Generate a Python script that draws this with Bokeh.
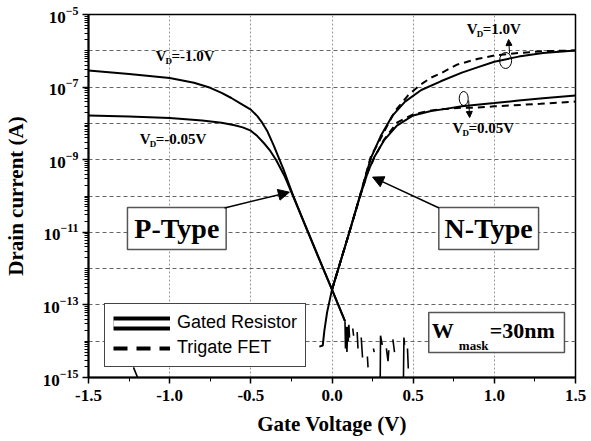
import numpy as np
from bokeh.plotting import figure
from bokeh.models import (ColumnDataSource, FixedTicker, LogTickFormatter, PrintfTickFormatter,
                          Legend, LegendItem, Arrow, NormalHead, Range1d)
from bokeh.core.properties import value
from bokeh.embed import file_html
from bokeh.resources import INLINE

SERIF = "Liberation Serif"
SANS = "Liberation Sans"

# ---- measured transfer curves (gate voltage in V, log10 of drain current in A) ----
# P-type branch, gated resistor, V_D = -1.0 V
vg_p_100 = [-1.5, -1.25, -1.0, -0.85, -0.75, -0.68, -0.62, -0.56, -0.5, -0.46, -0.43, -0.4, -0.36,
            -0.3, -0.24, -0.17, -0.1, 0.0, 0.08]
log_id_p_100 = [-6.54, -6.64, -6.75, -6.88, -7.02, -7.16, -7.3, -7.46, -7.62, -7.8, -7.98, -8.2, -8.6,
                -9.25, -9.98, -10.75, -11.5, -12.58, -13.45]

# P-type branch, gated resistor, V_D = -0.05 V
vg_p_005 = [-1.5, -1.25, -1.0, -0.8, -0.68, -0.6, -0.55, -0.5, -0.46, -0.42, -0.38, -0.345, -0.29,
            -0.24, -0.17, -0.1, 0.0, 0.08]
log_id_p_005 = [-7.78, -7.81, -7.85, -7.92, -7.98, -8.05, -8.11, -8.2, -8.35, -8.54, -8.76, -9.0, -9.47,
                -10.0, -10.76, -11.52, -12.58, -13.45]

# N-type branch, gated resistor, V_D = 1.0 V
vg_n_100 = [-0.078, -0.057, -0.047, -0.03, 0.0, 0.1, 0.17, 0.24, 0.3, 0.37, 0.45, 0.55, 0.67, 0.8, 0.9,
            1.0, 1.15, 1.3, 1.5]
log_id_n_100 = [-14.15, -14.12, -13.71, -13.2, -12.58, -11.1, -10.03, -8.95, -8.35, -7.8, -7.4, -7.08,
                -6.84, -6.6, -6.45, -6.3, -6.16, -6.06, -5.99]

# N-type branch, trigate FET, V_D = 1.0 V
vg_n_100_fet = [0.0, 0.1, 0.17, 0.24, 0.29, 0.33, 0.39, 0.47, 0.55, 0.61, 0.67, 0.77, 0.9, 1.0, 1.15,
                1.3, 1.5]
log_id_n_100_fet = [-12.58, -11.1, -10.03, -8.9, -8.5, -8.15, -7.65, -7.22, -6.92, -6.74, -6.62, -6.38,
                    -6.22, -6.13, -6.06, -6.01, -5.99]

# N-type branch, gated resistor, V_D = 0.05 V
vg_n_005 = [0.0, 0.1, 0.17, 0.22, 0.26, 0.32, 0.4, 0.5, 0.61, 0.7, 0.8, 1.0, 1.15, 1.3, 1.5]
log_id_n_005 = [-12.58, -11.1, -10.05, -9.35, -8.93, -8.47, -8.06, -7.78, -7.66, -7.6, -7.53, -7.44,
                -7.37, -7.31, -7.23]

# N-type branch, trigate FET, V_D = 0.05 V
vg_n_005_fet = [0.0, 0.1, 0.17, 0.22, 0.26, 0.32, 0.4, 0.5, 0.6, 0.7, 0.8, 0.875, 1.0, 1.285, 1.5]
log_id_n_005_fet = [-12.58, -11.1, -10.05, -9.35, -8.95, -8.45, -7.98, -7.75, -7.65, -7.6, -7.57, -7.57,
                    -7.53, -7.46, -7.40]

# noise floor of the off-state current (NaN separates the fragments)
vg_noise = [0.08, 0.083, 0.088, 0.092, 0.097, 0.1, 0.104, 0.108, np.nan,
            0.128, 0.133, np.nan, 0.155, 0.16, np.nan, 0.18, 0.188, np.nan,
            0.218, 0.222, np.nan, 0.255, 0.26, np.nan, 0.297, 0.299, 0.31, np.nan,
            0.335, 0.345, 0.35, np.nan, 0.375, 0.385, np.nan, 0.44, 0.443, 0.447, np.nan,
            0.465, 0.47, np.nan, -1.223, -1.193]
log_id_noise = [-13.45, -14.2, -13.6, -14.3, -13.6, -14.0, -13.55, -13.9, np.nan,
                -13.65, -13.85, np.nan, -13.75, -14.2, np.nan, -13.9, -14.45, np.nan,
                -14.42, -14.72, np.nan, -14.2, -14.3, np.nan, -15.1, -13.85, -14.1, np.nan,
                -14.2, -14.55, -14.25, np.nan, -13.95, -14.3, np.nan, -15.1, -13.9, -14.1, np.nan,
                -14.2, -14.75, np.nan, -14.72, -15.05]

# axis ticks
x_ticks = [-1.5, -1.0, -0.5, 0.0, 0.5, 1.0, 1.5]
x_minor = [-1.25, -0.75, -0.25, 0.25, 0.75, 1.25]
y_labelled = [1e-15, 1e-13, 1e-11, 1e-9, 1e-7, 1e-5]
y_decades = [10.0 ** e for e in range(-15, -4)]
y_minor = [k * 10.0 ** e for e in range(-15, -5) for k in range(1, 10)]


def amps(logs):
    return [10.0 ** v for v in logs]


p = figure(width=591, height=441, x_range=Range1d(-1.5, 1.5), y_range=Range1d(1e-15, 1e-5),
           y_axis_type="log", output_backend="svg", toolbar_location=None,
           min_border_left=87, min_border_right=16, min_border_top=14, min_border_bottom=64)
p.background_fill_color = "white"
p.border_fill_color = "white"
p.outline_line_color = "black"
p.outline_line_width = 1.5

# axes
p.xaxis.ticker = FixedTicker(ticks=x_ticks, minor_ticks=x_minor)
p.xaxis.formatter = PrintfTickFormatter(format="%.1f")
p.yaxis.ticker = FixedTicker(ticks=y_labelled, minor_ticks=y_minor)
p.yaxis.formatter = LogTickFormatter()
p.xaxis.axis_label = "Gate Voltage (V)"
p.yaxis.axis_label = "Drain current (A)"
for ax in (p.xaxis[0], p.yaxis[0]):
    ax.axis_line_width = 2
    ax.axis_line_color = "black"
    ax.major_tick_in = 0
    ax.major_tick_out = 6
    ax.minor_tick_in = 0
    ax.minor_tick_out = 4
    ax.major_tick_line_width = 1.5
    ax.minor_tick_line_width = 1
    ax.major_tick_line_color = "black"
    ax.minor_tick_line_color = "black"
    ax.major_label_text_font = SERIF
    ax.major_label_text_font_style = "bold"
    ax.major_label_text_font_size = "17px"
    ax.major_label_text_color = "black"
    ax.axis_label_text_font = SERIF
    ax.axis_label_text_font_style = "bold"
    ax.axis_label_text_font_size = "21px"
    ax.axis_label_text_color = "black"
p.xaxis.major_label_standoff = 6
p.yaxis.major_label_standoff = 4
p.xaxis.axis_label_standoff = 8
p.yaxis.axis_label_standoff = 12

# dashed grid at every half volt and every decade
p.xgrid.ticker = FixedTicker(ticks=x_ticks)
p.ygrid.ticker = FixedTicker(ticks=y_decades)
p.xgrid.grid_line_color = "#999999"
p.xgrid.grid_line_dash = "2 2"
p.ygrid.grid_line_color = "#666666"
p.ygrid.grid_line_dash = "4 3"
p.xgrid.grid_line_width = 1
p.ygrid.grid_line_width = 1

# curves
solid = dict(line_color="black", line_width=2)
dashed = dict(line_color="black", line_width=2, line_dash="7 5")
p.line(vg_p_100, amps(log_id_p_100), **solid)
p.line(vg_p_005, amps(log_id_p_005), **solid)
p.line(vg_n_100, amps(log_id_n_100), **solid)
p.line(vg_n_005, amps(log_id_n_005), **solid)
p.line(vg_n_100_fet, amps(log_id_n_100_fet), **dashed)
p.line(vg_n_005_fet, amps(log_id_n_005_fet), **dashed)
p.line(vg_noise, amps(log_id_noise), line_color="black", line_width=1.6)


# labelled boxes
def box(x0, x1, lg0, lg1):
    p.quad(left=[x0], right=[x1], bottom=[10.0 ** lg0], top=[10.0 ** lg1],
           fill_color="white", line_color="#555555", line_width=1.5)


def txt(x, lg, s, size, dx=0, dy=0, align="left"):
    p.text(x=[x], y=[10.0 ** lg], text=[s], text_font=value(SERIF), text_font_style="bold",
           text_font_size=size, text_color="black", text_baseline="middle", text_align=align,
           x_offset=dx, y_offset=dy)


box(-1.26, -0.652, -11.474, -10.317)
txt(-0.956, -10.895, "P-Type", "28px", align="center")
box(0.658, 1.2725, -11.474, -10.317)
txt(0.965, -10.895, "N-Type", "28px", align="center")
box(0.596, 1.432, -14.311, -13.209)
txt(0.615, -13.705, "W", "22px")
txt(0.615, -13.705, "mask", "13px", dx=27, dy=15)
txt(0.615, -13.705, "=30nm", "22px", dx=58)


# bias labels with subscripted D
def bias(x, lg, rest):
    txt(x, lg, "V", "15px")
    txt(x, lg, "D", "9px", dx=10, dy=5)
    txt(x, lg, rest, "15px", dx=16)


bias(-1.088, -6.13, "=-1.0V")
bias(-1.185, -8.416, "=-0.05V")
bias(0.830, -5.394, "=1.0V")
bias(0.742, -8.14, "=0.05V")

# curl markers grouping the two devices at each bias
p.ellipse(x=[1.0696, 0.8114], y=[10.0 ** -6.267, 10.0 ** -7.314], width=[12, 9], height=[16, 14],
          width_units="screen", height_units="screen", fill_color=None, line_color="black", line_width=1)
p.add_layout(Arrow(x_start=1.094, y_start=10.0 ** -6.074, x_end=1.088, y_end=10.0 ** -5.689,
                   line_width=1, end=NormalHead(size=6, fill_color="black", line_color="black")))
p.add_layout(Arrow(x_start=0.842, y_start=10.0 ** -7.369, x_end=0.848, y_end=10.0 ** -7.837,
                   line_width=1, end=NormalHead(size=6, fill_color="black", line_color="black")))

# pointers from the type boxes to the curves
p.add_layout(Arrow(x_start=-0.662, y_start=10.0 ** -10.33, x_end=-0.2625, y_end=10.0 ** -9.895,
                   line_width=1.5, end=NormalHead(size=11, fill_color="black", line_color="black")))
p.add_layout(Arrow(x_start=0.6597, y_start=10.0 ** -10.33, x_end=0.250, y_end=10.0 ** -9.48,
                   line_width=1.5, end=NormalHead(size=11, fill_color="black", line_color="black")))

# legend: double line for the gated resistor, dashed line for the trigate FET
swatch = ColumnDataSource(data=dict(x=[np.nan], y=[np.nan]))
r_outer = p.line("x", "y", source=swatch, line_color="black", line_width=14)
r_inner = p.line("x", "y", source=swatch, line_color="white", line_width=6)
r_dash = p.line("x", "y", source=swatch, line_color="black", line_width=4, line_dash="14 9")
legend = Legend(items=[LegendItem(label="Gated Resistor", renderers=[r_outer, r_inner]),
                       LegendItem(label="Trigate FET", renderers=[r_dash])],
                location=(16, 10), padding=8, spacing=4, margin=0,
                glyph_width=57, glyph_height=16, label_height=16, label_standoff=7,
                label_text_font=SANS, label_text_font_size="18px", label_text_color="black",
                border_line_color="#444444", border_line_width=1.5, border_line_alpha=1.0,
                background_fill_color="white", background_fill_alpha=1.0)
p.add_layout(legend, "center")

open("out.html", "w").write(file_html(p, INLINE))
